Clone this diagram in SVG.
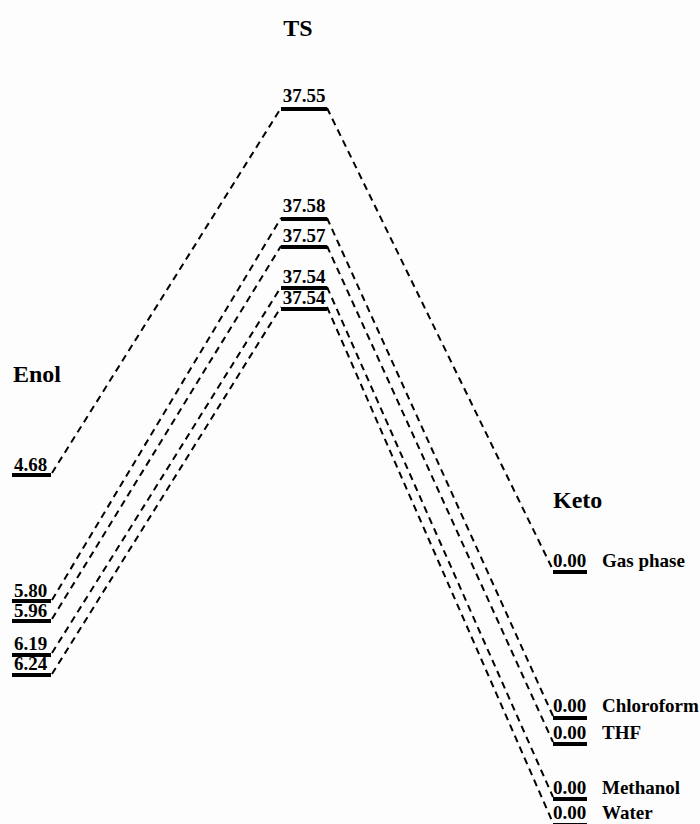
<svg xmlns="http://www.w3.org/2000/svg" width="700" height="824" viewBox="0 0 700 824">
<style>
.bar{stroke:#000;stroke-width:4;fill:none}
.con{stroke:#000;stroke-width:2;stroke-dasharray:7,5;fill:none}
.val{font-family:"Liberation Serif","Times New Roman",serif;font-weight:bold;font-size:19px;fill:#000}
.title{font-family:"Liberation Serif","Times New Roman",serif;font-weight:bold;font-size:24px;fill:#000}
</style>
<rect width="700" height="824" fill="#fdfdfd"/>
<g id="titles">
<text class="title" x="298" y="36" text-anchor="middle">TS</text>
<text class="title" x="13" y="382">Enol</text>
<text class="title" x="553" y="508">Keto</text>
</g>
<g id="connectors">
<line class="con" x1="52" y1="473" x2="281" y2="108"/>
<line class="con" x1="327" y1="108" x2="553" y2="570"/>
<line class="con" x1="52" y1="600" x2="281" y2="218"/>
<line class="con" x1="327" y1="218" x2="553" y2="716"/>
<line class="con" x1="52" y1="619" x2="281" y2="246"/>
<line class="con" x1="327" y1="246" x2="553" y2="742"/>
<line class="con" x1="52" y1="653" x2="281" y2="287"/>
<line class="con" x1="327" y1="287" x2="553" y2="797"/>
<line class="con" x1="52" y1="674" x2="281" y2="307"/>
<line class="con" x1="327" y1="307" x2="553" y2="823"/>
</g>
<g id="enol-gas">
<line class="bar" x1="12" y1="475" x2="51" y2="475"/>
<text class="val" x="14" y="470.5">4.68</text>
</g>
<g id="enol-chloroform">
<line class="bar" x1="12" y1="601" x2="51" y2="601"/>
<text class="val" x="14" y="596.5">5.80</text>
</g>
<g id="enol-thf">
<line class="bar" x1="12" y1="621" x2="51" y2="621"/>
<text class="val" x="14" y="617">5.96</text>
</g>
<g id="enol-methanol">
<line class="bar" x1="12" y1="655" x2="51" y2="655"/>
<text class="val" x="14" y="650">6.19</text>
</g>
<g id="enol-water">
<line class="bar" x1="12" y1="675" x2="51" y2="675"/>
<text class="val" x="14" y="670">6.24</text>
</g>
<g id="ts-gas">
<line class="bar" x1="281" y1="109" x2="327" y2="109"/>
<text class="val" x="304" y="102" text-anchor="middle">37.55</text>
</g>
<g id="ts-chloroform">
<line class="bar" x1="281" y1="219" x2="327" y2="219"/>
<text class="val" x="304" y="212" text-anchor="middle">37.58</text>
</g>
<g id="ts-thf">
<line class="bar" x1="281" y1="247" x2="327" y2="247"/>
<text class="val" x="304" y="242" text-anchor="middle">37.57</text>
</g>
<g id="ts-methanol">
<line class="bar" x1="281" y1="288" x2="327" y2="288"/>
<text class="val" x="304" y="283" text-anchor="middle">37.54</text>
</g>
<g id="ts-water">
<line class="bar" x1="281" y1="309" x2="327" y2="309"/>
<text class="val" x="304" y="304" text-anchor="middle">37.54</text>
</g>
<g id="keto-gas">
<line class="bar" x1="553" y1="572" x2="587" y2="572"/>
<text class="val" x="553" y="567">0.00</text>
<text class="val" x="602" y="567">Gas phase</text>
</g>
<g id="keto-chloroform">
<line class="bar" x1="553" y1="718" x2="587" y2="718"/>
<text class="val" x="553" y="712">0.00</text>
<text class="val" x="602" y="712">Chloroform</text>
</g>
<g id="keto-thf">
<line class="bar" x1="553" y1="744" x2="587" y2="744"/>
<text class="val" x="553" y="738.5">0.00</text>
<text class="val" x="602" y="738.5">THF</text>
</g>
<g id="keto-methanol">
<line class="bar" x1="553" y1="799" x2="587" y2="799"/>
<text class="val" x="553" y="793.5">0.00</text>
<text class="val" x="602" y="793.5">Methanol</text>
</g>
<g id="keto-water">
<line class="bar" x1="553" y1="825" x2="587" y2="825"/>
<text class="val" x="553" y="818.5">0.00</text>
<text class="val" x="602" y="818.5">Water</text>
</g>
</svg>
